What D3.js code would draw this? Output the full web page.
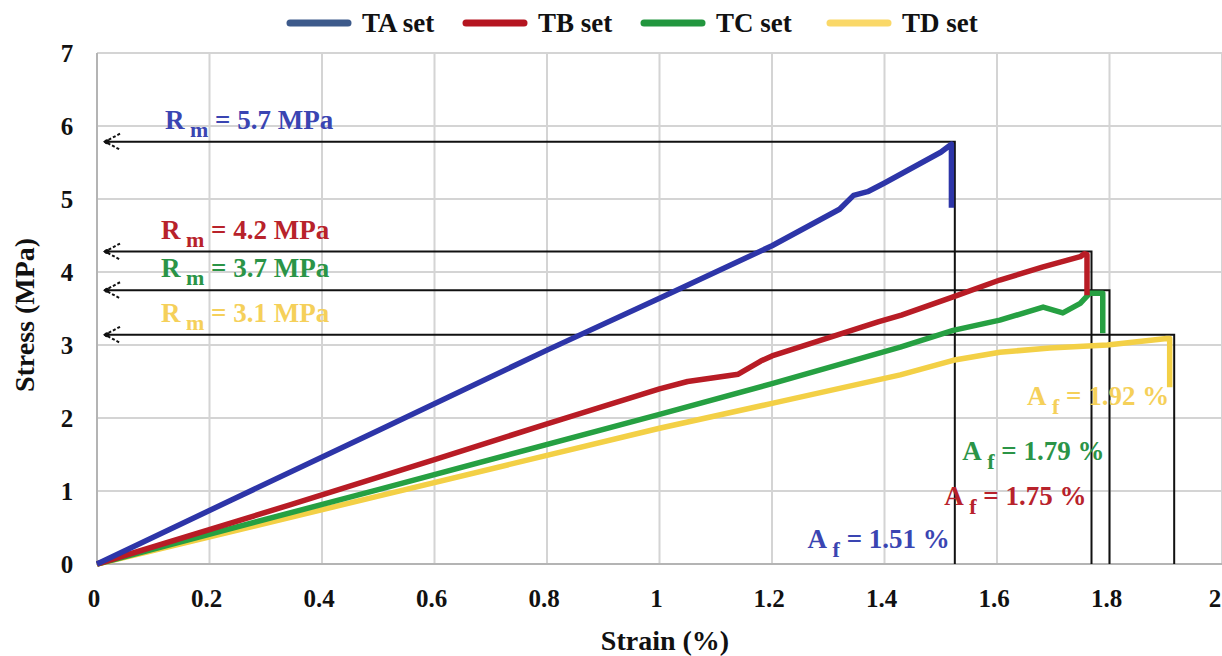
<!DOCTYPE html>
<html>
<head>
<meta charset="utf-8">
<script src="https://cdn.jsdelivr.net/npm/d3@7"></script>
<style>
  html, body { margin: 0; padding: 0; background: #fff; overflow: hidden; }
</style>
</head>
<body>
<div id="chart"></div>
<script>
// series
const SERIES = ['TA set', 'TB set', 'TC set', 'TD set'];
const LEGEND_COLORS = ['#3d5a8b', '#b51520', '#22963e', '#fad868'];
const LINE_COLORS = ['#2d35a8', '#b81c25', '#26a042', '#f3d046'];
const TEXT_COLORS = ['#3a45b2', '#b8222b', '#2b9447', '#f5d05a'];

// stress-strain curves, [strain %, stress MPa]
const taCurve = [[0, 0], [0.24, 0.88], [0.5, 1.83], [0.8, 2.93], [1.0, 3.64], [1.2, 4.36],
  [1.32, 4.86], [1.345, 5.05], [1.37, 5.1], [1.4, 5.22], [1.5, 5.64], [1.519, 5.75], [1.519, 4.88]];
const tbCurve = [[0, 0], [0.343, 0.81], [0.6, 1.43], [0.8, 1.92], [1.0, 2.4], [1.05, 2.5],
  [1.14, 2.6], [1.18, 2.78], [1.2, 2.85], [1.39, 3.32], [1.43, 3.41], [1.522, 3.66],
  [1.605, 3.89], [1.682, 4.07], [1.748, 4.21], [1.755, 4.25], [1.76, 4.24], [1.76, 3.68]];
const tcCurve = [[0, 0], [0.5, 1.02], [1.0, 2.05], [1.2, 2.47], [1.428, 2.97], [1.522, 3.2],
  [1.605, 3.34], [1.682, 3.52], [1.717, 3.44], [1.748, 3.57], [1.765, 3.71], [1.788, 3.71], [1.788, 3.16]];
const tdCurve = [[0, 0], [0.5, 0.93], [1.0, 1.86], [1.2, 2.2], [1.428, 2.59], [1.522, 2.79],
  [1.605, 2.9], [1.694, 2.96], [1.796, 3.0], [1.902, 3.09], [1.907, 3.09], [1.907, 2.42]];
const CURVES = [taCurve, tbCurve, tcCurve, tdCurve];

// guide lines at the maximum stress and the strain at failure
const peakStrain = [1.525, 1.768, 1.80, 1.915];
const peakStress = [5.785, 4.28, 3.75, 3.14];
const rmValues = ['5.7', '4.2', '3.7', '3.1'];
const afValues = ['1.51', '1.75', '1.79', '1.92'];

const xTicks = [0, 0.2, 0.4, 0.6, 0.8, 1, 1.2, 1.4, 1.6, 1.8, 2];
const yTicks = [0, 1, 2, 3, 4, 5, 6, 7];

const width = 1222;
const height = 656;
const margin = { top: 53, right: 0, bottom: 92, left: 97 };

const svg = d3.select('#chart')
  .append('svg')
  .attr('width', width)
  .attr('height', height)
  .attr('font-family', 'Liberation Serif')
  .attr('font-weight', 'bold')
  .style('display', 'block');

const x = d3.scaleLinear().domain([0, 2]).range([margin.left, width - margin.right]);
const y = d3.scaleLinear().domain([0, 7]).range([height - margin.bottom, margin.top]);

// grid
svg.append('g')
  .attr('stroke', '#d4d4d4')
  .attr('stroke-width', 2)
  .call((g) => g.selectAll('.gx')
    .data(xTicks.filter((d) => d > 0))
    .join('line')
    .attr('x1', (d) => x(d))
    .attr('x2', (d) => x(d))
    .attr('y1', y(7))
    .attr('y2', y(0)))
  .call((g) => g.selectAll('.gy')
    .data(yTicks.filter((d) => d > 0))
    .join('line')
    .attr('x1', x(0))
    .attr('x2', x(2))
    .attr('y1', (d) => y(d))
    .attr('y2', (d) => y(d)));

// axis frame
svg.append('path')
  .attr('d', `M${x(0)},${y(7)}V${y(0)}H${x(2)}`)
  .attr('fill', 'none')
  .attr('stroke', '#b4b4b4')
  .attr('stroke-width', 2);

// tick labels
svg.append('g')
  .attr('font-size', 25)
  .attr('fill', '#111')
  .attr('text-anchor', 'middle')
  .selectAll('text')
  .data(xTicks)
  .join('text')
  .attr('x', (d) => (d === 2 ? x(d) - 7 : x(d) - 3))
  .attr('y', 607)
  .text((d) => d);

svg.append('g')
  .attr('font-size', 25)
  .attr('fill', '#111')
  .attr('text-anchor', 'middle')
  .selectAll('text')
  .data(yTicks)
  .join('text')
  .attr('x', 67)
  .attr('y', (d) => y(d))
  .attr('dy', '0.35em')
  .text((d) => d);

// axis titles
svg.append('text')
  .attr('x', 665)
  .attr('y', 650)
  .attr('text-anchor', 'middle')
  .attr('font-size', 28)
  .attr('fill', '#111')
  .text('Strain (%)');

svg.append('text')
  .attr('transform', 'translate(34,315) rotate(-90)')
  .attr('text-anchor', 'middle')
  .attr('font-size', 28)
  .attr('fill', '#111')
  .text('Stress (MPa)');

// guide lines (Rm and Af)
const guides = svg.append('g')
  .attr('fill', 'none')
  .attr('stroke', '#111');

guides.selectAll('.guide')
  .data(SERIES)
  .join('path')
  .attr('class', 'guide')
  .attr('stroke-width', 2)
  .attr('d', (_, i) => `M${x(0) + 7},${y(peakStress[i])}H${x(peakStrain[i])}V${y(0)}`);

guides.selectAll('.arrow')
  .data(SERIES)
  .join('path')
  .attr('class', 'arrow')
  .attr('stroke-width', 2)
  .attr('stroke-dasharray', '3,2')
  .attr('d', (_, i) => {
    const yy = y(peakStress[i]);
    const x0 = x(0) + 8;
    return `M${x0 + 15},${yy - 8}L${x0},${yy}L${x0 + 15},${yy + 8}`;
  });

guides.selectAll('.dot')
  .data(SERIES)
  .join('circle')
  .attr('class', 'dot')
  .attr('cx', x(0) + 10)
  .attr('cy', (_, i) => y(peakStress[i]))
  .attr('r', 2.5)
  .attr('fill', '#111')
  .attr('stroke', 'none');

// curves
const line = d3.line()
  .x((d) => x(d[0]))
  .y((d) => y(d[1]));

svg.append('g')
  .attr('fill', 'none')
  .attr('stroke-width', 5.5)
  .attr('stroke-linejoin', 'round')
  .selectAll('path')
  .data(CURVES.map((c, i) => ({ c, i })).reverse())
  .join('path')
  .attr('stroke', (d) => LINE_COLORS[d.i])
  .attr('d', (d) => line(d.c));

// Rm labels
svg.append('g')
  .style('white-space', 'pre')
  .selectAll('text')
  .data(rmValues)
  .join('text')
  .attr('x', (_, i) => (i === 0 ? 165 : 161))
  .attr('y', (_, i) => y(peakStress[i]) - 13)
  .attr('font-size', 27)
  .attr('fill', (_, i) => TEXT_COLORS[i])
  .call((t) => t.append('tspan').text('R'))
  .call((t) => t.append('tspan').attr('font-size', 22).attr('dy', 8).text(' m'))
  .call((t) => t.append('tspan').attr('dy', -8).text((d) => ` = ${d} MPa`));

// Af labels
const afLabelY = [0.22, 0.81, 1.42, 2.18];

svg.append('g')
  .style('white-space', 'pre')
  .selectAll('text')
  .data(afValues)
  .join('text')
  .attr('x', (_, i) => x(peakStrain[i]) - 5)
  .attr('y', (_, i) => y(afLabelY[i]))
  .attr('text-anchor', 'end')
  .attr('font-size', 27)
  .attr('fill', (_, i) => TEXT_COLORS[i])
  .call((t) => t.append('tspan').text('A'))
  .call((t) => t.append('tspan').attr('font-size', 22).attr('dy', 9).text(' f'))
  .call((t) => t.append('tspan').attr('dy', -9).text((d) => ` = ${d} %`));

// legend
const legendX = [286, 462, 640, 826];

const legend = svg.append('g')
  .selectAll('g')
  .data(SERIES)
  .join('g')
  .attr('transform', (_, i) => `translate(${legendX[i]},23)`);

legend.append('line')
  .attr('x1', 4)
  .attr('x2', 62)
  .attr('stroke', (_, i) => LEGEND_COLORS[i])
  .attr('stroke-width', 7)
  .attr('stroke-linecap', 'round');

legend.append('text')
  .attr('x', 76)
  .attr('y', 9)
  .attr('font-size', 27)
  .attr('fill', '#111')
  .text((d) => d);
</script>
</body>
</html>
